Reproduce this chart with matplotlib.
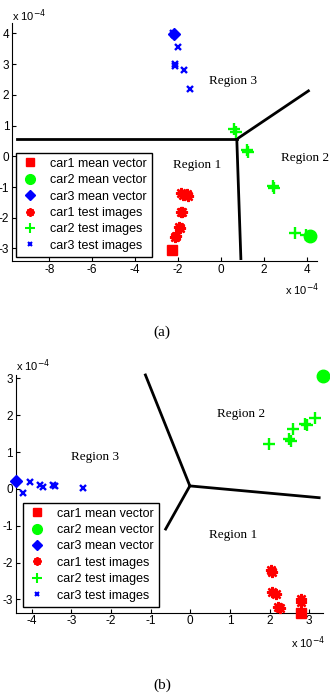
# Two scatter plots of the class mean vectors and test images, with region boundaries
import matplotlib
matplotlib.use("Agg")
from matplotlib import pyplot as plt

plt.rcParams["font.family"] = ["Liberation Sans", "DejaVu Sans"]
plt.rcParams["axes.unicode_minus"] = False

# values are in units of 1e-4 (as printed on the axes)
# ---- panel (a)
a_car1_mean = ([-2.3], [-3.05])
a_car2_mean = ([4.15], [-2.6])
a_car3_mean = ([-2.2], [3.98])
a_car1_test = ([-2.15, -2.1, -1.95, -1.9, -1.85, -1.8, -1.85, -1.75, -1.6, -1.55],
               [-2.62, -2.6, -2.3, -2.32, -1.8, -1.82, -1.2, -1.25, -1.22, -1.3])
a_car2_test = ([0.62, 0.7, 1.2, 1.25, 2.42, 2.48, 3.45, 3.95],
               [0.88, 0.8, 0.22, 0.15, -0.98, -1.02, -2.5, -2.55])
a_car3_test = ([-2.2, -2.25, -1.98, -2.15, -2.12, -1.72, -1.45],
               [3.95, 4.0, 3.55, 3.0, 2.95, 2.8, 2.2])
a_bounds = [([-9.5, 0.74], [0.56, 0.56]),
            ([0.74, 4.08], [0.56, 2.13]),
            ([0.74, 0.93], [0.56, -3.33])]
a_regions = [("Region 1", -1.12, -0.29), ("Region 2", 3.93, -0.06), ("Region 3", 0.57, 2.46)]
a_xticks = [-8, -6, -4, -2, 0, 2, 4]
a_yticks = [-3, -2, -1, 0, 1, 2, 3, 4]

# ---- panel (b)
b_car1_mean = ([2.8], [-3.38])
b_car2_mean = ([3.35], [3.05])
b_car3_mean = ([-4.4], [0.2])
b_car1_test = ([2.04, 2.06, 2.05, 2.15, 2.2, 2.25, 2.8, 2.8],
               [-2.2, -2.26, -2.8, -2.85, -3.2, -3.22, -3.0, -3.06])
b_car2_test = ([1.98, 2.5, 2.55, 2.6, 2.9, 2.95, 3.15],
               [1.22, 1.35, 1.3, 1.62, 1.75, 1.72, 1.93])
b_car3_test = ([-4.22, -4.05, -3.78, -3.7, -3.45, -3.42, -2.7],
               [-0.12, 0.18, 0.1, 0.05, 0.1, 0.08, 0.02])
b_bounds = [([-0.01, -1.13], [0.08, 3.09]),
            ([-0.01, 3.25], [0.08, -0.24]),
            ([-0.01, -0.62], [0.08, -1.09])]
b_regions = [("Region 1", 1.08, -1.24), ("Region 2", 1.27, 2.02), ("Region 3", -2.39, 0.87)]
b_xticks = [-4, -3, -2, -1, 0, 1, 2, 3]
b_yticks = [-3, -2, -1, 0, 1, 2, 3]

labels = ["car1 mean vector", "car2 mean vector", "car3 mean vector",
          "car1 test images", "car2 test images", "car3 test images"]
RED, GREEN, BLUE = "#ff0000", "#00ff00", "#0000ff"
STAR = (8, 2, 0)


def panel(ax, means, tests, bounds, regions, xlim, ylim, xticks, yticks, leg_anchor):
    for (x, y), c, m, s in zip(means, [RED, GREEN, BLUE], ["s", "o", "D"], [7, 9, 6]):
        ax.plot(x, y, ls="none", marker=m, color=c, ms=s, clip_on=False, zorder=4)
    for (x, y), c, m, s in zip(tests, [RED, GREEN, BLUE], [STAR, "+", "x"], [8, 9, 5]):
        ax.plot(x, y, ls="none", marker=m, color=c, ms=s, mew=1.7, clip_on=False, zorder=4)
    for x, y in bounds:
        ax.plot(x, y, color="black", lw=2, clip_on=False)
    for text, x, y in regions:
        ax.text(x, y, text, family="Liberation Serif", fontsize=9.5, ha="center", va="center")
    ax.set_xlim(xlim)
    ax.set_ylim(ylim)
    ax.set_xticks(xticks)
    ax.set_yticks(yticks)
    ax.spines["top"].set_visible(False)
    ax.spines["right"].set_visible(False)
    ax.spines["left"].set_linewidth(0.8)
    ax.spines["bottom"].set_linewidth(0.8)
    ax.tick_params(direction="in", length=3, labelsize=8.5, pad=2)
    # legend handles drawn with smaller markers
    handles = []
    for c, m, s, w in zip([RED, GREEN, BLUE, RED, GREEN, BLUE],
                          ["s", "o", "D", STAR, "+", "x"],
                          [6, 7, 5, 6, 7, 3.5], [1, 1, 1, 1.5, 1.5, 1.5]):
        handles += ax.plot([], [], ls="none", marker=m, color=c, ms=s, mew=w)
    leg = ax.legend(handles, labels, loc="upper left", bbox_to_anchor=leg_anchor,
                    bbox_transform=fig.transFigure, fontsize=9, frameon=True,
                    fancybox=False, edgecolor="black", handlelength=1.4,
                    handletextpad=0.9, labelspacing=0.35, borderpad=0.4,
                    borderaxespad=0, framealpha=1)
    leg.get_frame().set_linewidth(1.0)
    leg.set_zorder(5)


fig = plt.figure(figsize=(3.3, 6.98), dpi=100)
ax1 = fig.add_axes([0.0364, 0.626, 0.9236, 0.3406])
ax2 = fig.add_axes([0.0476, 0.1222, 0.9304, 0.3406])

panel(ax1, [a_car1_mean, a_car2_mean, a_car3_mean], [a_car1_test, a_car2_test, a_car3_test],
      a_bounds, a_regions, (-9.74, 4.47), (-3.41, 4.33), a_xticks, a_yticks, (0.0485, 0.781))
panel(ax2, [b_car1_mean, b_car2_mean, b_car3_mean], [b_car1_test, b_car2_test, b_car3_test],
      b_bounds, b_regions, (-4.40, 3.34), (-3.36, 3.09), b_xticks, b_yticks, (0.0706, 0.2798))

# exponent labels the way MATLAB places them
fig.text(12 / 330, 1 - 16 / 698, r"x 10$^{-4}$", fontsize=8, va="center")
fig.text(285 / 330, 1 - 290 / 698, r"x 10$^{-4}$", fontsize=8, va="center")
fig.text(16 / 330, 1 - 366 / 698, r"x 10$^{-4}$", fontsize=8, va="center")
fig.text(291 / 330, 1 - 643 / 698, r"x 10$^{-4}$", fontsize=8, va="center")

fig.text(162 / 330, 1 - 332 / 698, "(a)", family="Liberation Serif", fontsize=11, ha="center", va="center")
fig.text(162 / 330, 1 - 685 / 698, "(b)", family="Liberation Serif", fontsize=11, ha="center", va="center")

fig.savefig("out.png", dpi=100)
